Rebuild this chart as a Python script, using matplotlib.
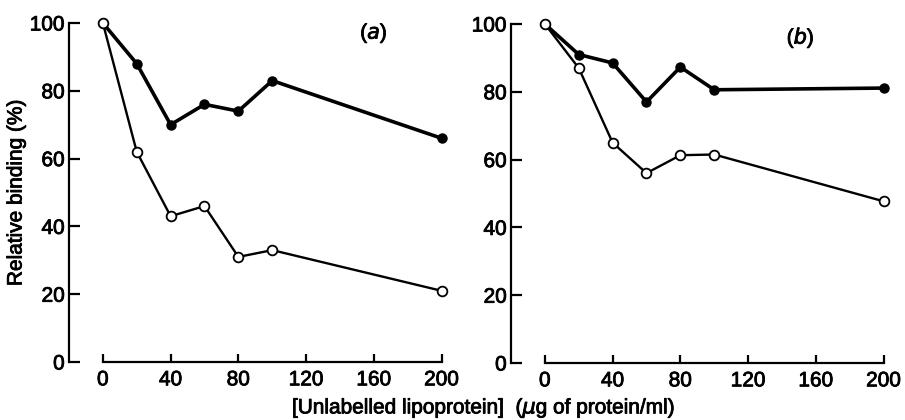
import matplotlib.pyplot as plt
import matplotlib.patheffects as pe

plt.rcParams['font.family'] = ['Liberation Sans', 'DejaVu Sans']
plt.rcParams['mathtext.default'] = 'regular'

# competitor concentration (ug protein/ml)
conc = [0, 20, 40, 60, 80, 100, 200]

# panel (a)
a_filled = [100, 88, 70, 76, 74, 83, 66]
a_open = [100, 62, 43, 46, 31, 33, 21]

# panel (b)
b_filled = [100, 91, 88.5, 77, 87.3, 80.6, 81.1]
b_open = [100, 87, 65, 56, 61.3, 61.5, 47.7]

x_ticks = [0, 40, 80, 120, 160, 200]
y_ticks = [0, 20, 40, 60, 80, 100]

# slightly heavier strokes for all text
heavy = [pe.withStroke(linewidth=0.6, foreground='black')]

fig = plt.figure(figsize=(9.05, 4.2), dpi=100)
ax_a = fig.add_axes([69 / 905, 58 / 420, 376 / 905, 339 / 420])
ax_b = fig.add_axes([511 / 905, 57 / 420, 376 / 905, 339 / 420])


def draw_panel(ax, filled, hollow, tag, tag_x, tag_y):
    ax.plot(conc, filled, color='black', lw=2.6, marker='o', ms=6.5,
            mfc='black', mec='black', clip_on=False, zorder=3)
    ax.plot(conc, hollow, color='black', lw=1.7, marker='o', ms=7,
            mfc='white', mec='black', mew=1.3, clip_on=False, zorder=4)

    ax.set_xlim(-20, 202)
    ax.set_ylim(0, 100)
    ax.spines['top'].set_visible(False)
    ax.spines['right'].set_visible(False)
    ax.spines['left'].set_bounds(0, 100)
    ax.spines['bottom'].set_bounds(0, 200)
    ax.spines['left'].set_linewidth(1.6)
    ax.spines['bottom'].set_linewidth(1.6)

    ax.set_xticks(x_ticks)
    ax.set_yticks(y_ticks)
    ax.tick_params(axis='x', direction='in', length=6, width=1.6, pad=6,
                   labelsize=15)
    ax.tick_params(axis='y', direction='in', length=8, width=1.6, pad=3,
                   labelsize=15)
    for lab in ax.get_xticklabels() + ax.get_yticklabels():
        lab.set_path_effects(heavy)

    ax.text(tag_x, tag_y, tag, fontsize=15, ha='center', va='center',
            path_effects=heavy)


draw_panel(ax_a, a_filled, a_open, '($\\it{a}$)', 160, 97)
draw_panel(ax_b, b_filled, b_open, '($\\it{b}$)', 151, 96)

ax_a.set_ylabel('Relative binding (%)', fontsize=15, labelpad=3,
                path_effects=heavy)
fig.text(484 / 905, 1 - 408 / 420,
         '[Unlabelled lipoprotein]  ($\\mathit{\\mu}$g of protein/ml)',
         ha='center', va='center', fontsize=15, path_effects=heavy)

fig.savefig('out.png', dpi=100)
